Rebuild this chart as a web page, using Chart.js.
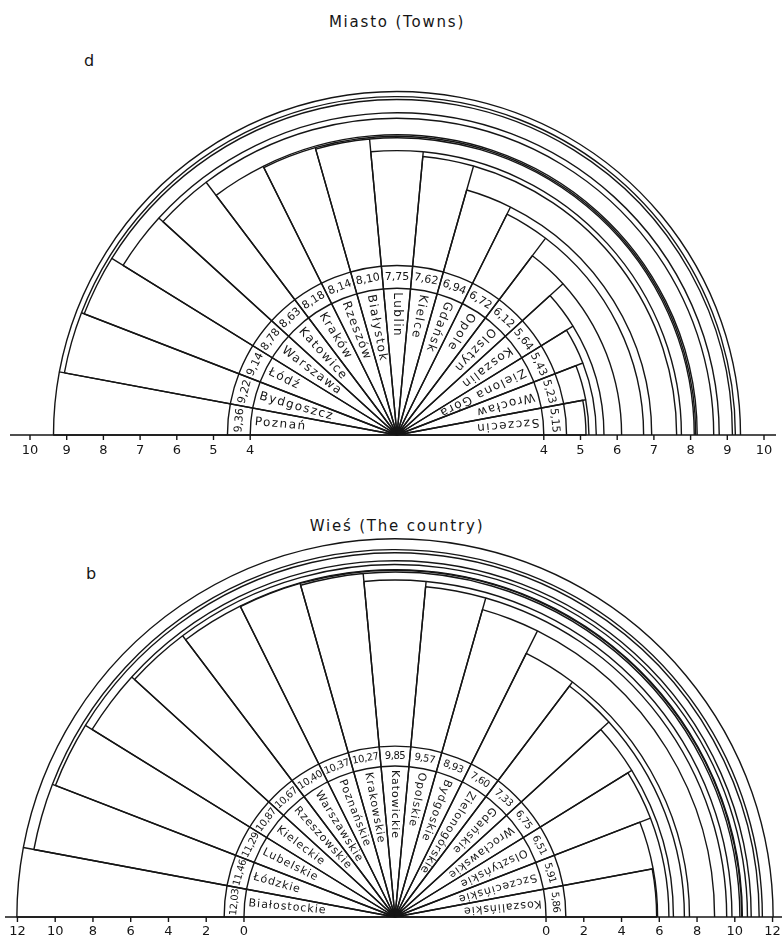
<!DOCTYPE html>
<html>
<head>
<meta charset="utf-8">
<script src="https://cdn.jsdelivr.net/npm/chart.js@4.4.1/dist/chart.umd.min.js"></script>
<style>
  html, body { margin: 0; padding: 0; background: #fff; }
  body { width: 782px; height: 941px; position: relative; overflow: hidden; font-family: "DejaVu Sans", sans-serif; color: #151515; }
  .title { position: absolute; left: 6px; width: 782px; text-align: center; font-size: 15px; letter-spacing: 1.8px; }
  .tag { position: absolute; font-size: 16px; }
  .box { position: absolute; left: 0; width: 782px; overflow: hidden; }
  .box canvas { position: absolute; left: 0; top: 0; }
</style>
</head>
<body>
<div class="title" style="top:13px">Miasto (Towns)</div>
<div class="tag" style="left:84px;top:51px">d</div>
<div class="box" style="top:50px;height:420px"><canvas id="townChart" width="782" height="762"></canvas></div>

<div class="title" style="top:517px">Wieś (The country)</div>
<div class="tag" style="left:86px;top:564px">b</div>
<div class="box" style="top:520px;height:421px"><canvas id="countryChart" width="782" height="794"></canvas></div>

<script>
// Miasto (towns), od lewej do prawej
const townNames = ['Poznań', 'Bydgoszcz', 'Łódź', 'Warszawa', 'Katowice', 'Kraków', 'Rzeszów', 'Białystok',
  'Lublin', 'Kielce', 'Gdańsk', 'Opole', 'Olsztyn', 'Koszalin', 'Zielona Góra', 'Wrocław', 'Szczecin'];
const townValues = [9.36, 9.22, 9.14, 8.78, 8.63, 8.18, 8.14, 8.10, 7.75, 7.62, 6.94, 6.72, 6.12, 5.64, 5.43, 5.23, 5.15];
const townTicks = [4, 5, 6, 7, 8, 9, 10];

// Wieś (the country), od lewej do prawej
const countryNames = ['Białostockie', 'Łódzkie', 'Lubelskie', 'Kieleckie', 'Rzeszowskie', 'Warszawskie', 'Poznańskie',
  'Krakowskie', 'Katowickie', 'Opolskie', 'Bydgoskie', 'Zielonogórskie', 'Gdańskie', 'Wrocławskie', 'Olsztyńskie',
  'Szczecińskie', 'Koszalińskie'];
const countryValues = [12.03, 11.46, 11.29, 10.87, 10.67, 10.40, 10.37, 10.27, 9.85, 9.57, 8.93, 7.60, 7.33, 6.75, 6.51, 5.91, 5.86];
const countryTicks = [0, 2, 4, 6, 8, 10, 12];

const ink = '#151515';

function fmt(v) {
  return v.toFixed(2).replace('.', ',');
}

// arcs to the right axis, label rings, axis and texts
const fanDecor = {
  id: 'fanDecor',
  afterDatasetsDraw(chart, args, o) {
    const ctx = chart.ctx;
    const s = chart.scales.r;
    const cx = s.xCenter, cy = s.yCenter;
    const arcs = chart.getDatasetMeta(0).data;
    const values = chart.data.datasets[0].data;
    const names = chart.data.labels;
    const END = 2 * Math.PI;

    ctx.save();
    ctx.strokeStyle = ink;
    ctx.fillStyle = ink;
    ctx.lineWidth = 1.4;

    arcs.forEach(a => {
      if (a.endAngle < END - 1e-6) {
        ctx.beginPath();
        ctx.arc(cx, cy, a.outerRadius, a.endAngle, END);
        ctx.stroke();
      }
    });

    o.rings.forEach(v => {
      ctx.beginPath();
      ctx.arc(cx, cy, s.getDistanceFromCenterForValue(v), Math.PI, END);
      ctx.stroke();
    });

    ctx.beginPath();
    ctx.moveTo(o.axisFrom, cy);
    ctx.lineTo(o.axisTo, cy);
    ctx.stroke();

    ctx.font = o.tickFont;
    ctx.textAlign = 'center';
    ctx.textBaseline = 'middle';
    o.ticks.forEach(v => {
      const r = s.getDistanceFromCenterForValue(v);
      [cx - r, cx + r].forEach(x => {
        ctx.beginPath();
        ctx.moveTo(x, cy);
        ctx.lineTo(x, cy + 5);
        ctx.stroke();
        ctx.fillText(String(v), x, cy + o.tickGap);
      });
    });

    const rName = s.getDistanceFromCenterForValue(o.rings[0]);
    const rVal = (rName + s.getDistanceFromCenterForValue(o.rings[1])) / 2;
    arcs.forEach((a, i) => {
      const phi = (a.startAngle + a.endAngle) / 2;
      const ux = Math.cos(phi), uy = Math.sin(phi);

      ctx.save();
      ctx.translate(cx + ux * (rName - 4), cy + uy * (rName - 4));
      ctx.rotate(phi + Math.PI);
      ctx.font = o.nameFont;
      ctx.letterSpacing = o.nameSpacing;
      ctx.textAlign = 'left';
      ctx.textBaseline = 'middle';
      ctx.fillText(names[i], 0, 0);
      ctx.restore();

      ctx.save();
      ctx.translate(cx + ux * rVal, cy + uy * rVal);
      ctx.rotate(phi + Math.PI / 2);
      ctx.font = o.valueFont;
      ctx.letterSpacing = o.valueSpacing;
      ctx.textAlign = 'center';
      ctx.textBaseline = 'middle';
      ctx.fillText(fmt(values[i]), 0, 0);
      ctx.restore();
    });

    ctx.restore();
  }
};

function makeFan(id, names, values, cfg) {
  new Chart(document.getElementById(id), {
    type: 'polarArea',
    data: {
      labels: names,
      datasets: [{
        data: values,
        angle: 180 / values.length,
        backgroundColor: 'rgba(0,0,0,0)',
        borderColor: ink,
        borderWidth: 1.4
      }]
    },
    options: {
      responsive: false,
      animation: false,
      events: [],
      layout: { padding: cfg.padding },
      plugins: {
        legend: { display: false },
        tooltip: { enabled: false },
        fanDecor: cfg.decor
      },
      scales: {
        r: {
          min: cfg.min,
          max: cfg.max,
          startAngle: -90,
          ticks: { display: false, stepSize: 0.5 },
          grid: { display: false },
          angleLines: { display: false },
          pointLabels: { display: false }
        }
      }
    },
    plugins: [fanDecor]
  });
}

makeFan('townChart', townNames, townValues, {
  min: 0, max: 10,
  padding: { left: 30, right: 18, top: 18, bottom: 10 },
  decor: {
    rings: [4, 4.62],
    ticks: townTicks,
    axisFrom: 10, axisTo: 776,
    tickGap: 16,
    tickFont: '13px "DejaVu Sans"',
    nameFont: '12px "DejaVu Sans"', nameSpacing: '1.5px',
    valueFont: '11px "DejaVu Sans"', valueSpacing: '0px'
  }
});

makeFan('countryChart', countryNames, countryValues, {
  min: -8, max: 12.5,
  padding: { left: 8, right: 0, top: 10, bottom: 10 },
  decor: {
    rings: [0, 1.05],
    ticks: countryTicks,
    axisFrom: 5, axisTo: 782,
    tickGap: 15,
    tickFont: '13px "DejaVu Sans"',
    nameFont: '11px "DejaVu Sans"', nameSpacing: '1px',
    valueFont: '10px "DejaVu Sans"', valueSpacing: '-0.4px'
  }
});
</script>
</body>
</html>
